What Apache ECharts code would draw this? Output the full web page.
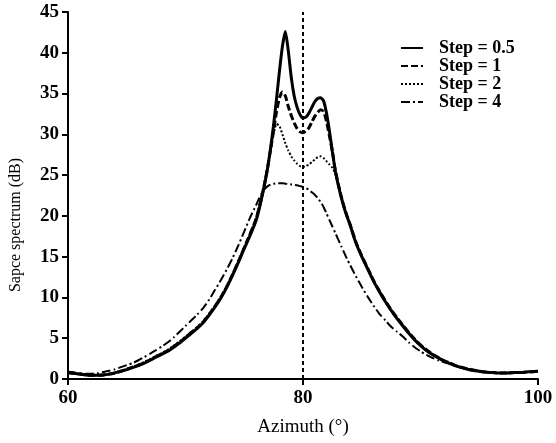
<!DOCTYPE html>
<html>
<head>
<meta charset="utf-8">
<script src="https://cdn.jsdelivr.net/npm/echarts@6/dist/echarts.min.js"></script>
<style>
html,body{margin:0;padding:0;background:#fff;}
#chart{width:556px;height:443px;}
</style>
</head>
<body>
<div id="chart"></div>
<script>
// Azimuth sample positions (degrees)
var azimuth = [
  60,60.5,61,61.5,62,62.5,63,63.5,64,64.5,65,65.5,66,66.5,67,67.5,68,68.5,69,69.5,70,70.5,71,71.5,72,72.5,73,73.5,74,74.5,75,75.5,76,
  76.25,76.5,76.75,77,77.25,77.5,77.75,78,78.25,78.5,78.75,79,79.25,79.5,79.75,80,80.25,80.5,80.75,81,81.25,81.5,81.75,82,82.25,82.5,82.75,83,83.25,83.5,83.75,84,
  84.5,85,85.5,86,86.5,87,87.5,88,88.5,89,89.5,90,90.5,91,91.5,92,92.5,93,93.5,94,94.5,95,95.5,96,96.5,97,97.5,98,98.5,99,99.5,100
];

var step05 = [
  0.8,0.7,0.6,0.5,0.45,0.45,0.5,0.6,0.75,0.95,1.15,1.4,1.65,1.95,2.3,2.7,3.05,3.4,3.9,4.4,5.0,5.6,6.2,6.9,7.8,8.8,9.9,11.2,12.7,14.3,16.0,17.6,19.4,
  20.7,22.3,24.0,26.0,28.4,31.2,34.4,37.8,40.8,42.6,40.2,37.0,34.7,33.3,32.4,32.0,32.1,32.6,33.3,34.0,34.4,34.5,34.1,32.6,30.4,27.9,25.5,23.8,22.3,21.0,19.9,18.9,
  16.7,15.0,13.5,12.0,10.7,9.5,8.4,7.4,6.5,5.6,4.8,4.1,3.5,3.0,2.6,2.2,1.9,1.6,1.4,1.2,1.05,0.95,0.85,0.8,0.75,0.75,0.75,0.8,0.8,0.85,0.9,0.95
];

var step1 = [
  0.8,0.7,0.6,0.5,0.45,0.45,0.5,0.6,0.75,0.95,1.2,1.45,1.7,2.0,2.35,2.75,3.1,3.5,4.0,4.5,5.1,5.7,6.3,7.0,7.9,8.9,10.0,11.3,12.8,14.4,16.1,17.8,19.6,
  20.9,22.4,24.1,26.0,28.2,30.5,32.8,34.5,35.2,34.7,33.4,32.3,31.4,30.7,30.3,30.2,30.4,30.8,31.5,32.2,32.7,33.0,32.8,31.6,29.8,27.9,25.6,23.9,22.4,21.1,20.0,19.0,
  16.8,15.1,13.6,12.1,10.8,9.6,8.5,7.5,6.6,5.7,4.9,4.2,3.6,3.05,2.65,2.25,1.95,1.65,1.45,1.25,1.1,0.95,0.85,0.8,0.75,0.75,0.75,0.8,0.8,0.85,0.9,0.95
];

var step2 = [
  0.75,0.65,0.55,0.5,0.45,0.5,0.55,0.65,0.8,1.0,1.25,1.5,1.8,2.1,2.45,2.85,3.2,3.6,4.1,4.6,5.2,5.8,6.4,7.1,8.0,9.0,10.1,11.4,12.9,14.5,16.2,17.9,19.7,
  21.1,22.7,24.3,26.1,28.2,30.1,31.3,31.0,30.0,28.9,28.0,27.3,26.8,26.4,26.1,26.0,26.1,26.3,26.6,26.9,27.2,27.3,27.1,26.7,26.3,25.9,25.2,23.8,22.4,21.1,20.0,19.0,
  16.8,15.1,13.6,12.1,10.8,9.6,8.5,7.5,6.6,5.7,4.9,4.2,3.6,3.1,2.65,2.25,1.95,1.65,1.45,1.25,1.1,0.95,0.85,0.8,0.75,0.75,0.8,0.8,0.85,0.85,0.9,0.95
];

var step4 = [
  0.9,0.8,0.7,0.65,0.65,0.7,0.85,1.0,1.2,1.45,1.7,1.95,2.3,2.7,3.1,3.55,4.0,4.5,5.1,5.8,6.5,7.2,7.9,8.7,9.7,10.9,12.1,13.4,14.8,16.4,18.1,19.8,21.3,
  22.1,22.8,23.3,23.65,23.85,23.95,24.0,24.0,24.0,23.95,23.9,23.85,23.8,23.75,23.65,23.55,23.4,23.2,22.9,22.6,22.2,21.7,21.1,20.3,19.5,18.7,17.9,17.1,16.3,15.5,14.7,14.0,
  12.6,11.3,10.1,9.0,8.0,7.2,6.4,5.8,5.2,4.5,3.9,3.4,2.95,2.6,2.3,2.05,1.85,1.6,1.4,1.2,1.05,0.95,0.85,0.8,0.75,0.75,0.75,0.8,0.8,0.85,0.9,0.95
];

var seriesNames = ['Step = 0.5', 'Step = 1', 'Step = 2', 'Step = 4'];
var xTicks = [60, 80, 100];
var centerAzimuth = 80;

function pairs(vals) {
  return azimuth.map(function (a, i) { return [a, vals[i]]; });
}

var FONT = '"Liberation Serif", "Times New Roman", serif';
var chart = echarts.init(document.getElementById('chart'), null, {renderer: 'canvas'});

var lineStyles = [
  {color: '#000', width: 3, type: 'solid'},
  {color: '#000', width: 3, type: [7, 3]},
  {color: '#000', width: 2, type: [2, 2]},
  {color: '#000', width: 2, type: [9, 3, 2, 3]}
];
var datasets = [step05, step1, step2, step4];

var series = datasets.map(function (d, i) {
  var s = {
    name: seriesNames[i],
    type: 'line',
    data: pairs(d),
    symbol: 'none',
    smooth: 0.2,
    lineStyle: lineStyles[i],
    itemStyle: {color: '#000'},
    z: 3 + i
  };
  if (i === 0) {
    s.markLine = {
      silent: true,
      symbol: ['none', 'none'],
      label: {show: false},
      lineStyle: {color: '#000', width: 2, type: [4, 3]},
      data: [{xAxis: centerAzimuth}]
    };
  }
  return s;
});

chart.setOption({
  animation: false,
  backgroundColor: '#fff',
  grid: {left: 68, right: 18, top: 12, bottom: 64},
  legend: {
    orient: 'vertical',
    left: 395,
    top: 34,
    itemWidth: 22,
    itemHeight: 14,
    itemGap: 0,
    data: seriesNames,
    itemStyle: {opacity: 0},
    textStyle: {fontFamily: FONT, fontWeight: 'bold', fontSize: 18, color: '#000', lineHeight: 14, padding: [0, 0, 0, 11]}
  },
  xAxis: {
    type: 'value',
    min: 60,
    max: 100,
    interval: 20,
    name: 'Azimuth (°)',
    nameLocation: 'middle',
    nameGap: 39,
    nameTextStyle: {fontFamily: FONT, fontSize: 19, color: '#000'},
    axisLine: {show: true, onZero: false, lineStyle: {color: '#000', width: 2}},
    axisTick: {show: true, length: 6, lineStyle: {color: '#000', width: 2}},
    axisLabel: {fontFamily: FONT, fontWeight: 'bold', fontSize: 19, color: '#000', margin: 10},
    splitLine: {show: false}
  },
  yAxis: {
    type: 'value',
    min: 0,
    max: 45,
    interval: 5,
    axisLine: {show: true, lineStyle: {color: '#000', width: 2}},
    axisTick: {show: true, length: 6, lineStyle: {color: '#000', width: 2}},
    axisLabel: {fontFamily: FONT, fontWeight: 'bold', fontSize: 19, color: '#000', margin: 9},
    splitLine: {show: false}
  },
  graphic: [{
    type: 'text',
    x: 16,
    y: 225,
    rotation: Math.PI / 2,
    style: {
      text: 'Sapce spectrum (dB)',
      font: '16px ' + FONT,
      fill: '#000',
      textAlign: 'center',
      textVerticalAlign: 'middle'
    }
  }],
  series: series
});
</script>
</body>
</html>
